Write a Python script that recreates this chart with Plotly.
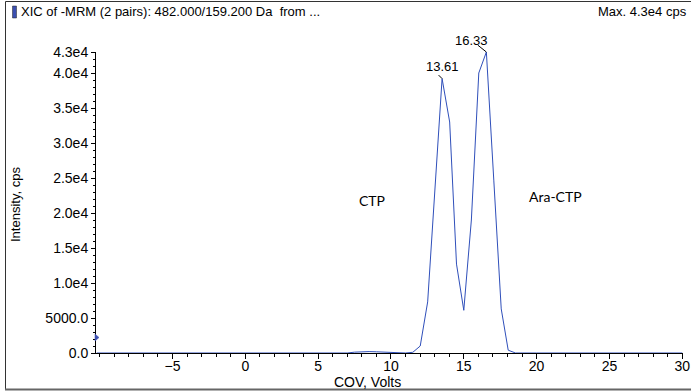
import plotly.graph_objects as go

# ---- data ----
cov_volts = [-10.2, -5.0, 0.0, 5.0, 7.0, 7.5, 8.0, 8.5, 9.0, 9.5, 10.0, 11.0, 11.5,
             12.01, 12.52, 13.03, 13.51, 14.03, 14.50, 15.00, 15.52, 16.03, 16.55,
             17.06, 17.57, 18.05, 18.55, 20.0, 25.0, 30.0]
intensity = [0, 0, 0, 0, 0, 120, 180, 200, 170, 120, 60, 0, 100,
             1000, 7300, 23500, 39200, 33000, 12700, 6100, 19000, 40000, 43000,
             24700, 6300, 400, 0, 0, 0, 0]

y_tick_vals = [0, 5000, 10000, 15000, 20000, 25000, 30000, 35000, 40000, 43000]
y_tick_text = ["0.0", "5000.0", "1.0e4", "1.5e4", "2.0e4", "2.5e4", "3.0e4", "3.5e4", "4.0e4", "4.3e4"]
x_tick_vals = [-5, 0, 5, 10, 15, 20, 25, 30]

peak_x = [13.51, 16.55]
peak_y = [39200, 43000]
peak_labels = ["13.61", "16.33"]

compound_names = ["CTP", "Ara-CTP"]
compound_x = [8.7, 21.3]
compound_y = [21800, 22300]

title_text = "XIC of -MRM (2 pairs): 482.000/159.200 Da  from ..."
max_text = "Max. 4.3e4 cps"

# ---- layout geometry (pixels) ----
W, H = 691, 392
L, R, T, B = 96, 683, 52, 353

def px(x):
    return (x - L) / (R - L)

def py(y):
    return (B - y) / (B - T)

FONT = "Liberation Sans, Arial, sans-serif"
LINE_COLOR = "#2f4fba"

fig = go.Figure()
fig.add_trace(go.Scatter(x=cov_volts, y=intensity, mode="lines",
                         line=dict(color=LINE_COLOR, width=1), hoverinfo="skip",
                         showlegend=False))

annotations = []
# peak labels: text offsets and leader-line offsets (pixels)
label_shift = [(0, 12), (-15, 12)]
leader_tail = [(-5, -5), (-10, -8)]
for xv, yv, lab, (sx, sy), (lx, ly) in zip(peak_x, peak_y, peak_labels, label_shift, leader_tail):
    annotations.append(dict(x=xv, y=yv, xref="x", yref="y", text=lab, showarrow=False,
                            xshift=sx, yshift=sy, yanchor="middle",
                            font=dict(family=FONT, size=13, color="#000")))
    annotations.append(dict(x=xv, y=yv, xref="x", yref="y", text="", showarrow=True,
                            arrowhead=0, arrowwidth=1, arrowcolor="#000",
                            ax=lx, ay=ly, standoff=0))
for xv, yv, lab in zip(compound_x, compound_y, compound_names):
    annotations.append(dict(x=xv, y=yv, xref="x", yref="y", text=lab, showarrow=False,
                            font=dict(family="Lato, Noto Sans, sans-serif", size=14, color="#000")))

annotations.append(dict(x=px(19), y=py(11), xref="paper", yref="paper", text=title_text,
                        showarrow=False, xanchor="left", yanchor="middle",
                        font=dict(family=FONT, size=13, color="#000")))
annotations.append(dict(x=px(689), y=py(11), xref="paper", yref="paper", text=max_text,
                        showarrow=False, xanchor="right", yanchor="middle",
                        font=dict(family=FONT, size=13, color="#000")))
# axis titles
annotations.append(dict(x=px(15), y=py(205), xref="paper", yref="paper", text="Intensity, cps",
                        textangle=-90, showarrow=False, xanchor="center", yanchor="middle",
                        font=dict(family=FONT, size=13, color="#000")))
annotations.append(dict(x=px(367), y=py(381.5), xref="paper", yref="paper", text="COV, Volts",
                        showarrow=False, xanchor="center", yanchor="middle",
                        font=dict(family=FONT, size=14, color="#000")))

shapes = [
    # outer frame
    dict(type="line", xref="paper", yref="paper", x0=px(5.5), x1=px(700), y0=py(1.5), y1=py(1.5),
         line=dict(color="#333", width=1)),
    dict(type="line", xref="paper", yref="paper", x0=px(5.5), x1=px(5.5), y0=py(1.5), y1=py(390),
         line=dict(color="#333", width=1)),
    dict(type="line", xref="paper", yref="paper", x0=px(5), x1=px(700), y0=py(389.5), y1=py(389.5),
         line=dict(color="#666", width=2)),
    # blue legend swatch
    dict(type="rect", xref="paper", yref="paper", x0=px(12.5), x1=px(16.5), y0=py(6), y1=py(18),
         fillcolor="#3b4fb0", line=dict(color="#222", width=0.5)),
    # small marker on y axis
    dict(type="path", xref="paper", yref="paper",
         path=f"M {px(95)} {py(334)} L {px(99)} {py(337.5)} L {px(95)} {py(341)} Z",
         fillcolor="#3b4fb0", line=dict(color="#3b4fb0", width=0.5)),
]

fig.update_layout(
    width=W, height=H,
    margin=dict(l=L, r=W - R, t=T, b=H - B, autoexpand=False),
    paper_bgcolor="white", plot_bgcolor="white",
    font=dict(family=FONT, size=13, color="#000"),
    annotations=annotations, shapes=shapes,
    xaxis=dict(range=[-10.25, 30.05], showgrid=False, zeroline=False, automargin=False,
               showline=True, linecolor="#000", linewidth=1,
               tickmode="array", tickvals=x_tick_vals, ticks="outside", ticklen=5,
               tickcolor="#000", tickwidth=1, ticklabelstandoff=-5,
               minor=dict(dtick=1, tick0=0, ticklen=3, ticks="outside", tickcolor="#000"),
               tickfont=dict(family=FONT, size=14)),
    yaxis=dict(range=[0, 43000], showgrid=False, zeroline=False, automargin=False,
               showline=True, linecolor="#000", linewidth=1,
               tickmode="array", tickvals=y_tick_vals, ticktext=y_tick_text,
               ticks="outside", ticklen=4, tickcolor="#000", tickwidth=1,
               minor=dict(dtick=1000, tick0=0, ticklen=2, ticks="outside", tickcolor="#000"),
               tickfont=dict(family=FONT, size=14)),
)

fig.write_html("out.html", config={"displayModeBar": False},
               post_script="document.body.style.margin='0';document.body.style.padding='0';")
